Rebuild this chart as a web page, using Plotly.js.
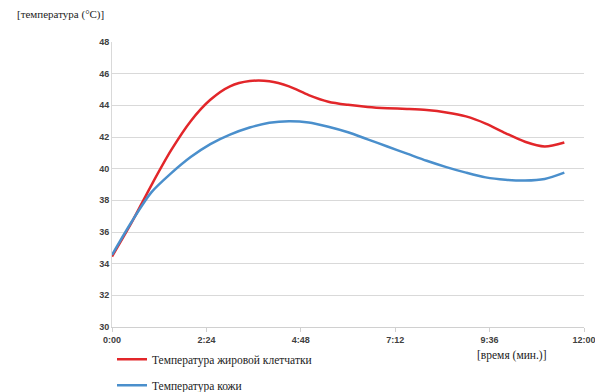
<!DOCTYPE html>
<html>
<head>
<meta charset="utf-8">
<script src="https://cdn.plot.ly/plotly-3.0.1.min.js"></script>
<style>
html,body{margin:0;padding:0;background:#fff;}
#chart{width:595px;height:392px;}
</style>
</head>
<body>
<div id="chart"></div>
<script>
// time in minutes (x-axis labelled in h:mm style as in the original)
const timeMin = [0, 0.5, 1, 1.5, 2, 2.5, 3, 3.5, 4, 4.5, 5, 5.5, 6, 6.5, 7, 7.5, 8, 8.5, 9, 9.5, 10, 10.5, 11, 11.5];
const fatTemp = [34.45, 36.6, 38.95, 41.15, 43.0, 44.35, 45.2, 45.53, 45.52, 45.2, 44.65, 44.23, 44.03, 43.9, 43.82, 43.77, 43.7, 43.55, 43.3, 42.85, 42.25, 41.7, 41.4, 41.65];
const skinTemp = [34.55, 36.65, 38.5, 39.7, 40.73, 41.55, 42.15, 42.6, 42.9, 43.0, 42.92, 42.65, 42.3, 41.85, 41.4, 40.95, 40.5, 40.1, 39.75, 39.45, 39.3, 39.25, 39.35, 39.75];
const seriesNames = ["Температура жировой клетчатки", "Температура кожи"];
const xTickVals = [0, 2.4, 4.8, 7.2, 9.6, 12];
const xTickText = ["0:00", "2:24", "4:48", "7:12", "9:36", "12:00"];
const yTickVals = [30, 32, 34, 36, 38, 40, 42, 44, 46, 48];
const yTitle = "[температура (°C)]";
const xTitle = "[время (мин.)]";

const serif = "Liberation Serif, Times New Roman, serif";
const sans = "Liberation Sans, Arial, sans-serif";

const traces = [
  {x: timeMin, y: fatTemp, name: seriesNames[0], mode: "lines", legendgroup: "a",
   line: {color: "#e2262a", width: 2.5, shape: "spline", smoothing: 0.8}},
  {x: timeMin, y: skinTemp, name: seriesNames[1], mode: "lines", legendgroup: "b",
   line: {color: "#4a8fcc", width: 2.5, shape: "spline", smoothing: 0.8}}
];

const layout = {
  width: 595, height: 392,
  margin: {l: 112, r: 10.5, t: 41.7, b: 65.3, autoexpand: false},
  paper_bgcolor: "#fff", plot_bgcolor: "#fff",
  showlegend: true,
  legend: {x: 0, xanchor: "left", y: -0.062, yanchor: "top", orientation: "v",
           font: {family: serif, size: 11.5, color: "#222"}, tracegroupgap: 7,
           bgcolor: "rgba(0,0,0,0)"},
  xaxis: {range: [0, 12], tickvals: xTickVals, ticktext: xTickText,
          showgrid: false, zeroline: false, showline: true, linecolor: "#d0d0d0", linewidth: 1,
          ticks: "outside", ticklen: 4, tickcolor: "#d0d0d0", automargin: false,
          ticklabeloverflow: "allow",
          tickfont: {family: sans, size: 9, color: "#404040", weight: "bold"}},
  yaxis: {range: [30, 48], tickvals: yTickVals, automargin: false,
          showgrid: true, gridcolor: "#d9d9d9", gridwidth: 1, zeroline: false,
          showline: true, linecolor: "#d9d9d9", linewidth: 1, ticks: "", ticklen: 0,
          tickfont: {family: sans, size: 9, color: "#404040", weight: "bold"}},
  annotations: [
    {text: yTitle, xref: "paper", yref: "paper", x: -0.205, y: 1.097, xanchor: "left", yanchor: "middle",
     showarrow: false, font: {family: serif, size: 11, color: "#222"}},
    {text: xTitle, xref: "paper", yref: "paper", x: 0.847, y: -0.1, xanchor: "center", yanchor: "middle",
     showarrow: false, font: {family: serif, size: 11.5, color: "#222"}}
  ]
};

Plotly.newPlot("chart", traces, layout, {displayModeBar: false, staticPlot: true});
</script>
</body>
</html>
